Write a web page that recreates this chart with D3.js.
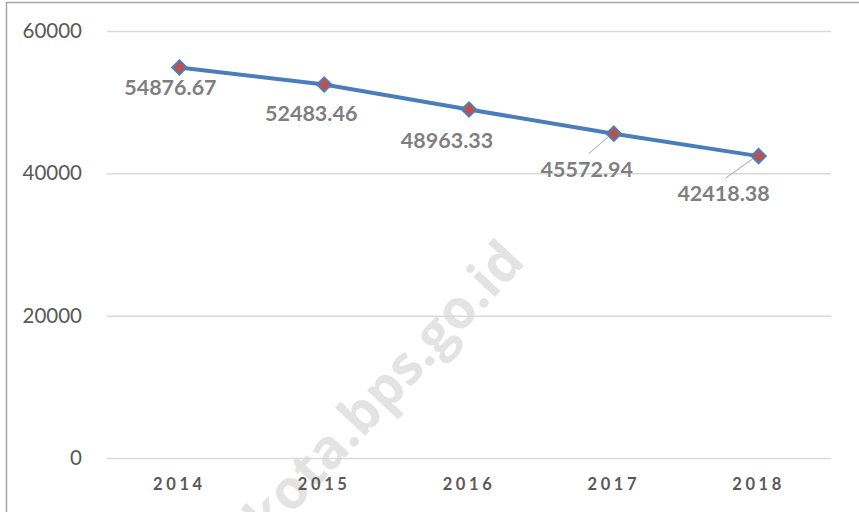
<!DOCTYPE html>
<html>
<head>
<meta charset="utf-8">
<script src="https://cdn.jsdelivr.net/npm/d3@7"></script>
<style>
  body { margin: 0; background: #fff; }
  svg { display: block; font-family: Lato, "Open Sans", sans-serif; }
</style>
</head>
<body>
<div id="chart"></div>
<script>
const years = ["2014", "2015", "2016", "2017", "2018"];
const values = [54876.67, 52483.46, 48963.33, 45572.94, 42418.38];
const yTicks = [0, 20000, 40000, 60000];
// label offsets from each point (dx, dy) and whether a leader line is drawn
const labelOffsets = [[-9, 28], [-13, 37], [-22, 38], [-27, 43], [-35, 45]];
const leaders = [false, false, false, true, true];

const width = 859;
const height = 512;
const margin = { top: 31, right: 28, bottom: 54, left: 107 };
const innerWidth = width - margin.left - margin.right;
const innerHeight = height - margin.top - margin.bottom;

const svg = d3.select("#chart").append("svg")
  .attr("width", width)
  .attr("height", height);

// chart frame (only top and left visible)
svg.append("path")
  .attr("d", `M6.5,${height} V2.5 H${width}`)
  .attr("fill", "none")
  .attr("stroke", "#a6a6a6")
  .attr("stroke-width", 1.5);

// watermark, sits behind everything else
svg.append("text")
  .attr("transform", "translate(268,540) rotate(-47)")
  .attr("fill", "#e3e3e3")
  .style("font-size", "54px")
  .style("font-weight", "bold")
  .style("font-family", "'Open Sans', sans-serif")
  .text("kota.bps.go.id");

const g = svg.append("g")
  .attr("transform", `translate(${margin.left},${margin.top})`);

const x = d3.scaleBand()
  .domain(years)
  .range([0, innerWidth]);

const y = d3.scaleLinear()
  .domain([0, 60000])
  .range([innerHeight, 0]);

// gridlines + y axis labels
const yAxis = d3.axisLeft(y)
  .tickValues(yTicks)
  .tickSize(-innerWidth)
  .tickPadding(25)
  .tickFormat(d3.format("d"));

g.append("g")
  .call(yAxis)
  .call(s => s.select(".domain").remove())
  .call(s => s.selectAll(".tick line").attr("stroke", "#d9d9d9").attr("stroke-width", 1.5))
  .call(s => s.selectAll(".tick text")
    .attr("fill", "#595959")
    .style("font-size", "20.5px")
    .style("font-family", "Lato, sans-serif"));

// x axis labels
g.append("g")
  .attr("transform", `translate(0,${innerHeight})`)
  .call(d3.axisBottom(x).tickSize(0).tickPadding(20))
  .call(s => s.select(".domain").remove())
  .call(s => s.selectAll(".tick text")
    .attr("fill", "#595959")
    .style("font-size", "16.5px")
    .style("font-weight", "bold")
    .style("letter-spacing", "3.6px")
    .style("font-family", "Lato, sans-serif"));

const cx = d => x(d.year) + x.bandwidth() / 2;
const data = years.map((year, i) => ({ year, value: values[i], i }));

// the line
g.append("path")
  .datum(data)
  .attr("fill", "none")
  .attr("stroke", "#4a7ebb")
  .attr("stroke-width", 4)
  .attr("d", d3.line().x(cx).y(d => y(d.value)));

// leader lines
g.selectAll(".leader")
  .data(data.filter(d => leaders[d.i]))
  .enter()
  .append("line")
  .attr("x1", d => cx(d) + labelOffsets[d.i][0] + 2)
  .attr("y1", d => y(d.value) + labelOffsets[d.i][1] - 23)
  .attr("x2", d => cx(d) - 2)
  .attr("y2", d => y(d.value))
  .attr("stroke", "#a6a6a6")
  .attr("stroke-width", 1);

// diamond markers
g.selectAll(".marker")
  .data(data)
  .enter()
  .append("path")
  .attr("transform", d => `translate(${cx(d)},${y(d.value)})`)
  .attr("d", d3.symbol().type(d3.symbolDiamond2).size(130))
  .attr("fill", "#c0504d")
  .attr("stroke", "#4a7ebb")
  .attr("stroke-width", 2);

// data labels
g.selectAll(".label")
  .data(data)
  .enter()
  .append("text")
  .attr("x", d => cx(d) + labelOffsets[d.i][0])
  .attr("y", d => y(d.value) + labelOffsets[d.i][1])
  .attr("text-anchor", "middle")
  .attr("fill", "#7f7f7f")
  .style("font-size", "21.5px")
  .style("font-weight", "bold")
  .style("font-family", "Lato, sans-serif")
  .text(d => d3.format(".2f")(d.value));
</script>
</body>
</html>
